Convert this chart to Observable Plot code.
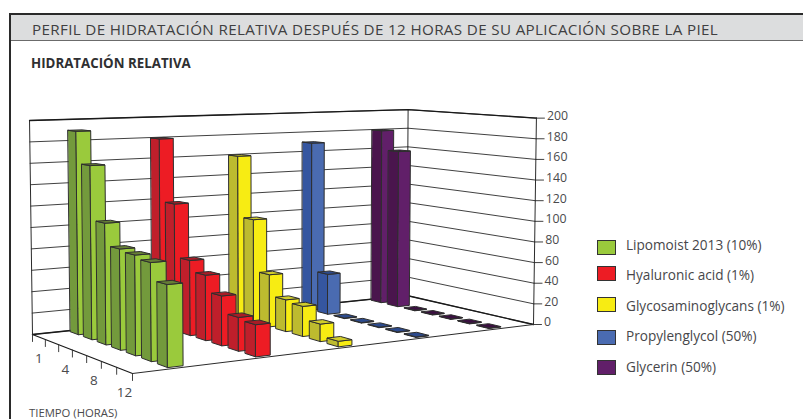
<!DOCTYPE html>
<html lang="es">
<head>
<meta charset="utf-8">
<script src="https://cdn.jsdelivr.net/npm/d3@7"></script>
<script src="https://cdn.jsdelivr.net/npm/@observablehq/plot@0.6"></script>
<style>
html,body{margin:0;padding:0;background:#fff;overflow:hidden}
#page{position:relative;width:803px;height:419px;overflow:hidden;font-family:"Open Sans",sans-serif;color:#4a4a4c}
#frameL{position:absolute;left:9px;top:13px;width:2px;height:406px;background:#2a2a2a}
#band{position:absolute;left:9px;top:13px;right:0;height:25px;background:#dcddde;border-top:2px solid #2a2a2a;border-bottom:1.5px solid #6b6b6b}
#title{position:absolute;left:32px;top:19px;font-size:15.2px;letter-spacing:.35px;line-height:20px;white-space:nowrap;color:#3f3f41}
#subtitle{position:absolute;left:31px;top:55px;font-size:13.3px;line-height:17px;font-weight:700;color:#2f2f31;white-space:nowrap}
#xtitle{position:absolute;left:29px;top:406px;font-size:11.3px;line-height:13px;white-space:nowrap;color:#4a4a4c}
#chart{position:absolute;left:0;top:0}
.lg{position:absolute;left:597px;width:17px;height:13px;border:1.5px solid #333}
.lt{position:absolute;left:626px;font-size:13.6px;line-height:18px;white-space:nowrap;color:#47474a}
</style>
</head>
<body>
<div id="page">
  <div id="band"></div>
  <div id="frameL"></div>
  <div id="title">PERFIL DE HIDRATACIÓN RELATIVA DESPUÉS DE 12 HORAS DE SU APLICACIÓN SOBRE LA PIEL</div>
  <div id="subtitle">HIDRATACIÓN RELATIVA</div>
  <div id="chart"></div>
  <div id="xtitle">TIEMPO (HORAS)</div>
</div>
<script>
// ---- data ----
const hours = [1, 2, 4, 6, 8, 10, 12];
const hourLabels = ["1", "", "4", "", "8", "", "12"];
const valueTicks = [0, 20, 40, 60, 80, 100, 120, 140, 160, 180, 200];
const seriesNames = ["Lipomoist 2013 (10%)", "Hyaluronic acid (1%)", "Glycosaminoglycans (1%)", "Propylenglycol (50%)", "Glycerin (50%)"];
const lipomoist = [190, 160, 110, 90, 88, 85, 70];
const hyaluronic = [180, 120, 70, 60, 45, 30, 28];
const glycos = [160, 100, 50, 30, 28, 16, 5];
const propylen = [170, 40, 0.5, 0.5, 0.5, 0.5, 0.5];
const glycerin = [180, 160, 0.5, 0.5, 0.5, 0.5, 0.5];
const seriesValues = [lipomoist, hyaluronic, glycos, propylen, glycerin];
const frontColors = ["#9aca3c", "#ed1c24", "#f7ec13", "#4a6bb1", "#611f69"];
const sideColors = ["#739a3c", "#bf1f2b", "#bdbb2f", "#3556a0", "#4a154d"];
const topColors = ["#667f35", "#a81c26", "#d0cc2a", "#2c4a8c", "#3a1040"];

// ---- perspective: maps (series 0..1, time 0..1, value) to the picture plane ----
const [x0, y0, x1, y1, x2, y2, x3, y3] = [32, 334, 406.3, 295, 533, 324, 132, 373];
const dx1 = x1 - x2, dx2 = x3 - x2, sx = x0 - x1 + x2 - x3;
const dy1 = y1 - y2, dy2 = y3 - y2, sy = y0 - y1 + y2 - y3;
const den = dx1 * dy2 - dx2 * dy1;
const g = (sx * dy2 - dx2 * sy) / den, h = (dx1 * sy - sx * dy1) / den;
const a = x1 - x0 + g * x1, b = x3 - x0 + h * x3, d = y1 - y0 + g * y1, e = y3 - y0 + h * y3;
function project(s, t, v) {
  const w = g * s + h * t + 1;
  const X = (a * s + b * t + x0) / w, Y = (d * s + e * t + y0) / w;
  const ht = (214 / 200) * v / w;
  return {x: X + (X - 280) * 5.6e-5 * ht, y: Y - ht};
}

// ---- build polygons (painter's order: far to near) ----
const polys = [];
let pid = 0;
function addPoly(color, pts) {
  pid++;
  for (const p of pts) polys.push({id: pid, color, ...project(...p)});
}
const halfS = 0.017, halfT = 0.0435;
for (let i = seriesValues.length - 1; i >= 0; i--) {
  seriesValues[i].forEach((v, j) => {
    const s = (i + 0.5) / seriesValues.length, t = (j + 0.5) / hours.length;
    const sl = s - halfS, sr = s + halfS, tb = t - halfT, tf = t + halfT;
    addPoly(sideColors[i], [[sl, tb, 0], [sl, tf, 0], [sl, tf, v], [sl, tb, v]]);
    addPoly(frontColors[i], [[sl, tf, 0], [sr, tf, 0], [sr, tf, v], [sl, tf, v]]);
    addPoly(topColors[i], [[sl, tb, v], [sl, tf, v], [sr, tf, v], [sr, tb, v]]);
  });
}

// ---- walls and floor ----
const gridLeft = [], gridRight = [], yTicks = [], yLabels = [];
for (const v of valueTicks) {
  gridLeft.push({k: v, ...project(0, 0, v)}, {k: v, ...project(1, 0, v)});
  gridRight.push({k: v, ...project(1, 0, v)}, {k: v, ...project(1, 1, v)});
  const p = project(1, 1, v);
  yTicks.push({k: v, ...p}, {k: v, x: p.x + 8, y: p.y});
  yLabels.push({label: String(v), x: p.x + 10.5, y: p.y - 2});
}
const edge = (pts) => pts.map((p) => project(...p));
const backBottom = edge([[0, 0, 0], [1, 0, 0], [1, 1, 0]]);
const frontBottom = edge([[1, 1, 0], [0, 1, 0]]);
const leftBottom = edge([[0, 0, 0], [0, 1, 0]]);
const topEdge = edge([[0, 0, 200], [1, 0, 200], [1, 1, 200]]);
const vertEdges = [[0, 0], [1, 0], [1, 1]].flatMap(([s, t], k) =>
  [{k, ...project(s, t, 0)}, {k, ...project(s, t, 200)}]);
const xTicks = d3.range(hours.length + 1).flatMap((j) => {
  const p = project(0, j / hours.length, 0);
  return [{k: j, ...p}, {k: j, x: p.x, y: p.y + 7}];
});
const xLabels = hourLabels.map((label, j) => {
  const p = project(0, (j + 0.5) / hours.length, 0);
  return {label, x: p.x, y: p.y + 22};
}).filter((d) => d.label);

const line = "#2b2b2b";
const chart = Plot.plot({
  width: 803, height: 419,
  margin: 0,
  style: {background: "transparent", overflow: "visible"},
  x: {domain: [0, 803], range: [0, 803], axis: null},
  y: {domain: [0, 419], range: [0, 419], axis: null},
  color: {type: "identity"},
  marks: [
    Plot.line(gridLeft, {x: "x", y: "y", z: "k", stroke: line, strokeWidth: 0.9}),
    Plot.line(gridRight, {x: "x", y: "y", z: "k", stroke: line, strokeWidth: 0.9}),
    Plot.line(vertEdges, {x: "x", y: "y", z: "k", stroke: line, strokeWidth: 1}),
    Plot.line(topEdge, {x: "x", y: "y", stroke: "#1a1a1a", strokeWidth: 1.3}),
    Plot.line(backBottom, {x: "x", y: "y", stroke: "#1a1a1a", strokeWidth: 1.4}),
    Plot.line(frontBottom, {x: "x", y: "y", stroke: line, strokeWidth: 1}),
    Plot.line(leftBottom, {x: "x", y: "y", stroke: "#1a1a1a", strokeWidth: 1.2}),
    Plot.line(xTicks, {x: "x", y: "y", z: "k", stroke: line, strokeWidth: 0.9}),
    Plot.line(yTicks, {x: "x", y: "y", z: "k", stroke: line, strokeWidth: 0.9}),
    Plot.line(polys, {x: "x", y: "y", z: "id", fill: "color", stroke: "#2e2e2e", strokeWidth: 1, strokeLinejoin: "round", curve: "linear-closed"}),
    Plot.text(yLabels, {x: "x", y: "y", text: "label", textAnchor: "start", fontSize: 12.3, fill: "#4a4a4c", fontFamily: "Open Sans"}),
    Plot.text(xLabels, {x: "x", y: "y", text: "label", textAnchor: "middle", fontSize: 13.5, fill: "#4a4a4c", fontFamily: "Open Sans"})
  ]
});
document.getElementById("chart").appendChild(chart);

// ---- legend ----
const legendTops = [240, 266, 297, 330, 360];
const legendTextTops = [236, 266, 297, 327, 358];
const page = document.getElementById("page");
seriesNames.forEach((name, i) => {
  const sw = document.createElement("div");
  sw.className = "lg";
  sw.style.top = legendTops[i] + "px";
  sw.style.background = frontColors[i];
  page.appendChild(sw);
  const tx = document.createElement("div");
  tx.className = "lt";
  tx.style.top = legendTextTops[i] + "px";
  tx.textContent = name;
  page.appendChild(tx);
});
</script>
</body>
</html>
